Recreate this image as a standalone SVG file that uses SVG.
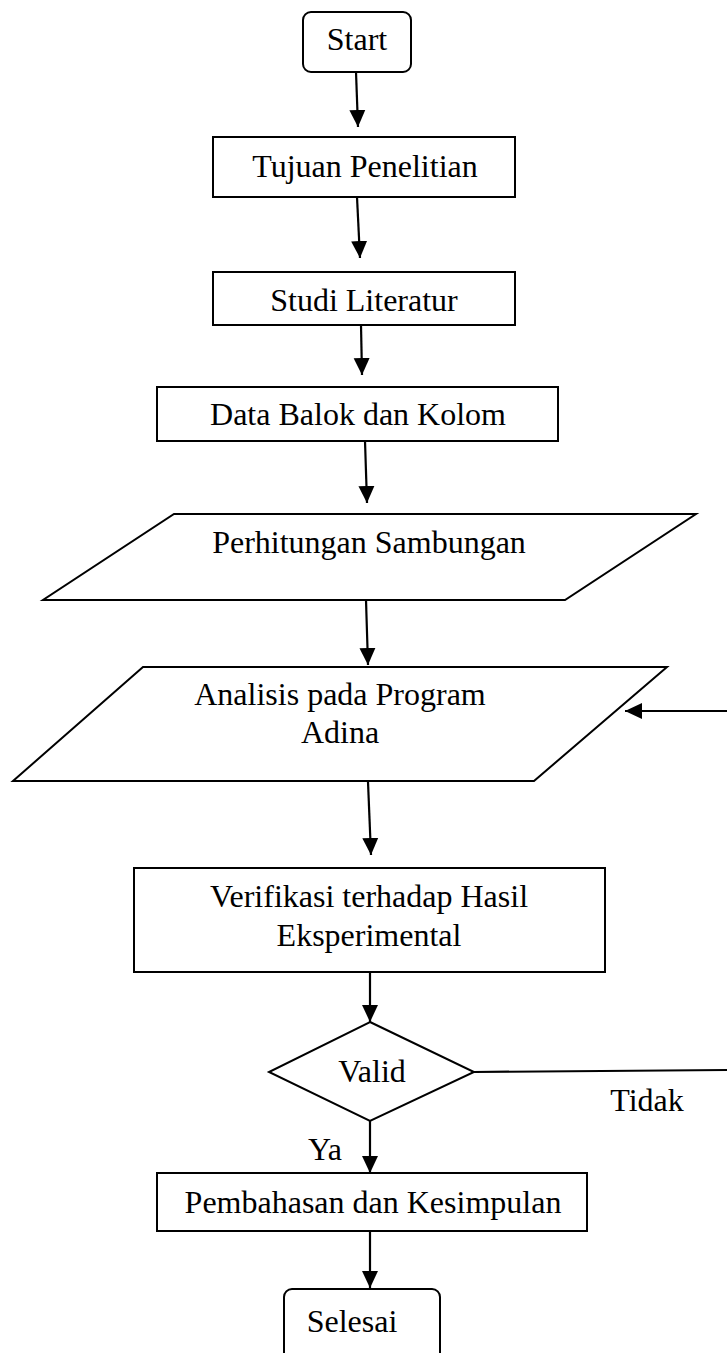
<svg xmlns="http://www.w3.org/2000/svg" width="727" height="1353" viewBox="0 0 727 1353">
<style>
.s{fill:#fff;stroke:#000;stroke-width:2}
.t{font-family:"Liberation Serif","Times New Roman",serif;font-size:32px;fill:#000;text-anchor:middle}
.c{fill:none;stroke:#000;stroke-width:2.2}
</style>
<defs>
<marker id="ah" markerUnits="userSpaceOnUse" markerWidth="18" markerHeight="18" viewBox="0 0 18 18" refX="17" refY="9" orient="auto">
<path d="M0,1 L17,9 L0,17 Z" fill="#000"/>
</marker>
</defs>
<rect width="727" height="1353" fill="#fff"/>
<g id="connectors">
<line class="c" x1="356" y1="72" x2="358" y2="127" marker-end="url(#ah)"/>
<line class="c" x1="357" y1="197" x2="360" y2="258" marker-end="url(#ah)"/>
<line class="c" x1="361" y1="325" x2="362" y2="375" marker-end="url(#ah)"/>
<line class="c" x1="365" y1="441" x2="367" y2="503" marker-end="url(#ah)"/>
<line class="c" x1="366" y1="600" x2="368" y2="665" marker-end="url(#ah)"/>
<line class="c" x1="368" y1="782" x2="371" y2="855" marker-end="url(#ah)"/>
<line class="c" x1="370" y1="972" x2="370" y2="1022" marker-end="url(#ah)"/>
<line class="c" x1="370" y1="1121" x2="370" y2="1173" marker-end="url(#ah)"/>
<line class="c" x1="370" y1="1231" x2="370" y2="1288" marker-end="url(#ah)"/>
<line class="c" x1="474" y1="1072" x2="730" y2="1070"/>
<line class="c" x1="730" y1="711" x2="625" y2="711" marker-end="url(#ah)"/>
</g>
<g id="start">
<rect class="s" x="303" y="12" width="108" height="60" rx="8"/>
<text class="t" x="357" y="50">Start</text>
</g>
<g id="tujuan">
<rect class="s" x="213" y="137" width="302" height="60"/>
<text class="t" x="365" y="177">Tujuan Penelitian</text>
</g>
<g id="studi">
<rect class="s" x="213" y="272" width="302" height="53"/>
<text class="t" x="364" y="311">Studi Literatur</text>
</g>
<g id="data">
<rect class="s" x="157" y="387" width="401" height="54"/>
<text class="t" x="358" y="425">Data Balok dan Kolom</text>
</g>
<g id="perhitungan">
<polygon class="s" points="174,514 696,514 565,600 43,600"/>
<text class="t" x="369" y="553">Perhitungan Sambungan</text>
</g>
<g id="analisis">
<polygon class="s" points="143,667 667,667 534,781 13,781"/>
<text class="t" x="340" y="705">Analisis pada Program</text>
<text class="t" x="340" y="743">Adina</text>
</g>
<g id="verifikasi">
<rect class="s" x="134" y="868" width="471" height="104"/>
<text class="t" x="369" y="907">Verifikasi terhadap Hasil</text>
<text class="t" x="369" y="946">Eksperimental</text>
</g>
<g id="valid">
<polygon class="s" points="370,1022 474,1072 370,1121 269,1072"/>
<text class="t" x="372" y="1082">Valid</text>
</g>
<g id="labels">
<text class="t" x="647" y="1111">Tidak</text>
<text class="t" x="325" y="1160">Ya</text>
</g>
<g id="pembahasan">
<rect class="s" x="157" y="1173" width="430" height="58"/>
<text class="t" x="373" y="1213">Pembahasan dan Kesimpulan</text>
</g>
<g id="selesai">
<rect class="s" x="284" y="1289" width="156" height="90" rx="8"/>
<text class="t" x="352" y="1332">Selesai</text>
</g>
</svg>
